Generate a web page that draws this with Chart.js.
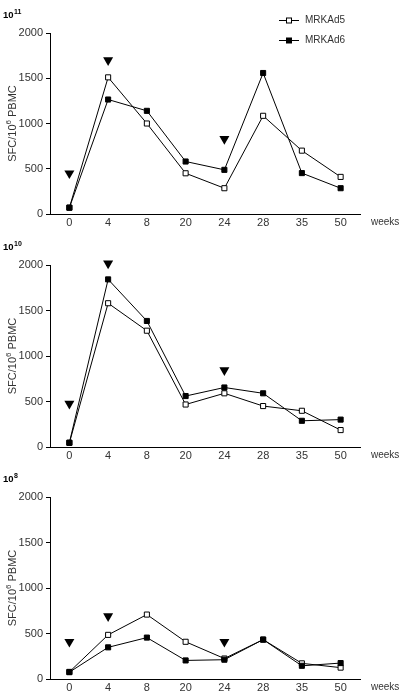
<!DOCTYPE html>
<html>
<head>
<meta charset="utf-8">
<script src="https://cdn.jsdelivr.net/npm/chart.js@4.4.1/dist/chart.umd.min.js"></script>
<style>
  html, body { margin: 0; padding: 0; background: #fff; }
  body { width: 400px; height: 694px; position: relative; overflow: hidden; }
  .panel { position: absolute; left: 0; width: 400px; }
</style>
</head>
<body>
<div class="panel" style="top:0;height:230px"><canvas id="c1"></canvas></div>
<div class="panel" style="top:230px;height:230px"><canvas id="c2"></canvas></div>
<div class="panel" style="top:460px;height:234px"><canvas id="c3"></canvas></div>
<script>
// ---- data ----
const weeks = ['0', '4', '8', '20', '24', '28', '35', '50'];
const yTicks = [0, 500, 1000, 1500, 2000];
const seriesNames = ['MRKAd5', 'MRKAd6'];
const doseLabels = [['10', '11'], ['10', '10'], ['10', '8']];
const yTitleParts = ['SFC/10', '6', ' PBMC'];
const xTitle = 'weeks';

// dose 10^11
const ad5_d11 = [70, 1510, 1000, 450, 285, 1085, 700, 410];
const ad6_d11 = [70, 1265, 1140, 580, 488, 1558, 452, 285];
const boost_d11 = [450, 1700, null, null, 830, null, null, null];

// dose 10^10
const ad5_d10 = [45, 1580, 1278, 467, 590, 450, 398, 186];
const ad6_d10 = [48, 1842, 1385, 560, 654, 590, 288, 301];
const boost_d10 = [477, 2018, null, null, 844, null, null, null];

// dose 10^8
const ad5_d8 = [78, 485, 708, 409, 225, 433, 172, 125];
const ad6_d8 = [75, 348, 455, 204, 212, 433, 145, 175];
const boost_d8 = [409, 691, null, null, 409, null, null, null];

const FONT = 'Liberation Sans, Arial, Helvetica, sans-serif';
const TEXT = '#333';
const TICK_SIZE = 11;

function labelsPlugin(idx) {
  return {
    id: 'labels' + idx,
    afterDraw(chart) {
      const ctx = chart.ctx;
      const ca = chart.chartArea;
      ctx.save();
      // dose label with superscript
      const [base, exp] = doseLabels[idx];
      ctx.fillStyle = '#000';
      ctx.textBaseline = 'alphabetic';
      ctx.textAlign = 'left';
      ctx.font = 'bold 9.5px ' + FONT;
      const y = ca.top - 15;
      ctx.fillText(base, 3, y);
      const w = ctx.measureText(base).width;
      ctx.font = 'bold 7px ' + FONT;
      ctx.fillText(exp, 3 + w + 0.5, y - 4);

      // "weeks" axis label
      const xs = chart.scales.x;
      ctx.font = '10px ' + FONT;
      ctx.fillStyle = TEXT;
      ctx.textBaseline = 'middle';
      ctx.fillText(xTitle, ca.right + 11, xs.top + 8);

      // rotated y title with superscript
      ctx.translate(13, (ca.top + ca.bottom) / 2);
      ctx.rotate(-Math.PI / 2);
      ctx.textBaseline = 'middle';
      ctx.font = TICK_SIZE + 'px ' + FONT;
      const w1 = ctx.measureText(yTitleParts[0]).width;
      ctx.font = '8px ' + FONT;
      const w2 = ctx.measureText(yTitleParts[1]).width;
      ctx.font = TICK_SIZE + 'px ' + FONT;
      const w3 = ctx.measureText(yTitleParts[2]).width;
      let x = -(w1 + w2 + w3) / 2;
      ctx.fillText(yTitleParts[0], x, 0);
      x += w1;
      ctx.font = '8px ' + FONT;
      ctx.fillText(yTitleParts[1], x, -4);
      x += w2;
      ctx.font = TICK_SIZE + 'px ' + FONT;
      ctx.fillText(yTitleParts[2], x, 0);
      ctx.restore();
    }
  };
}

const legendPlugin = {
  id: 'miniLegend',
  afterDraw(chart) {
    const ctx = chart.ctx;
    ctx.save();
    const rows = [
      { name: seriesNames[0], fill: '#fff', y: 20 },
      { name: seriesNames[1], fill: '#000', y: 40 }
    ];
    rows.forEach(r => {
      ctx.strokeStyle = '#000';
      ctx.lineWidth = 1;
      ctx.beginPath();
      ctx.moveTo(279, r.y + 0.5);
      ctx.lineTo(299, r.y + 0.5);
      ctx.stroke();
      ctx.fillStyle = r.fill;
      ctx.fillRect(286.5, r.y - 2, 5, 5);
      ctx.strokeRect(286.5, r.y - 2, 5, 5);
      ctx.fillStyle = TEXT;
      ctx.font = '10px ' + FONT;
      ctx.textBaseline = 'middle';
      ctx.textAlign = 'left';
      ctx.fillText(r.name, 305, r.y + 0.5);
    });
    ctx.restore();
  }
};

function makeChart(id, idx, ad5, ad6, boost, topPad, plotBottom, height) {
  const plugins = [labelsPlugin(idx)];
  if (idx === 0) plugins.push(legendPlugin);
  return new Chart(document.getElementById(id), {
    type: 'line',
    data: {
      labels: weeks,
      datasets: [
        {
          label: seriesNames[0], data: ad5, order: 2,
          borderColor: '#000', borderWidth: 1, backgroundColor: '#fff',
          pointStyle: 'rect', pointRadius: 3.6, pointBorderWidth: 1,
          pointBackgroundColor: '#fff', pointBorderColor: '#000', tension: 0
        },
        {
          label: seriesNames[1], data: ad6, order: 1,
          borderColor: '#000', borderWidth: 1, backgroundColor: '#000',
          pointStyle: 'rect', pointRadius: 3.6, pointBorderWidth: 1,
          pointBackgroundColor: '#000', pointBorderColor: '#000', tension: 0
        },
        {
          label: 'boost', data: boost, order: 0, showLine: false, clip: false,
          pointStyle: 'triangle', rotation: 180, pointRadius: 5.8, pointBorderWidth: 0,
          pointBackgroundColor: '#000', pointBorderColor: '#000'
        }
      ]
    },
    options: {
      responsive: true,
      maintainAspectRatio: false,
      animation: false,
      events: [],
      layout: { padding: { left: 0, right: 40, top: topPad, bottom: 0 } },
      plugins: { legend: { display: false }, tooltip: { enabled: false } },
      scales: {
        x: {
          type: 'category',
          offset: true,
          grid: { display: false, drawTicks: false },
          border: { display: true, color: '#000', width: 1 },
          ticks: { color: TEXT, font: { family: FONT, size: TICK_SIZE }, padding: 2, maxRotation: 0, autoSkip: false },
          afterFit(s) { s.height = height - plotBottom; }
        },
        y: {
          min: 0, max: 2000,
          afterBuildTicks(s) { s.ticks = yTicks.map(v => ({ value: v })); },
          grid: { display: true, drawOnChartArea: false, drawTicks: true, tickLength: 4, color: '#000' },
          border: { display: true, color: '#000', width: 1 },
          ticks: { color: TEXT, font: { family: FONT, size: TICK_SIZE }, padding: 3, callback: v => String(v) },
          title: { display: false },
          afterFit(s) { s.width = 50; }
        }
      }
    },
    plugins
  });
}

makeChart('c1', 0, ad5_d11, ad6_d11, boost_d11, 33, 214, 230);
makeChart('c2', 1, ad5_d10, ad6_d10, boost_d10, 35, 217, 230);
makeChart('c3', 2, ad5_d8, ad6_d8, boost_d8, 37, 219, 234);
</script>
</body>
</html>
